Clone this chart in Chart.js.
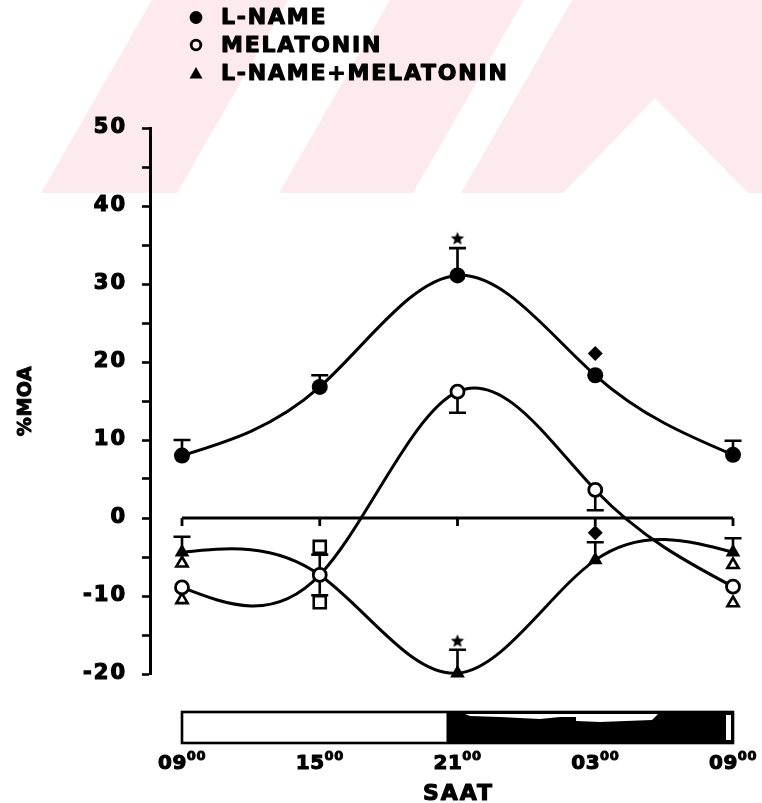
<!DOCTYPE html>
<html>
<head>
<meta charset="utf-8">
<script src="https://cdn.jsdelivr.net/npm/chart.js@4.4.1/dist/chart.umd.min.js"></script>
<style>
html, body { margin: 0; padding: 0; background: #fff; }
#wrap { width: 762px; height: 803px; }
</style>
</head>
<body>
<div id="wrap"><canvas id="chart" width="762" height="803"></canvas></div>
<script>
// time points: 09, 15, 21, 03, 09 (index on x axis)
const hours = [0, 1, 2, 3, 4];
const hourLabels = ['09', '15', '21', '03', '09'];
const darkStart = 1.92;   // lights off, in x units

const lname = [8, 16.8, 31.1, 18.3, 8.1];
const lnameErr = [2, 1.5, 3.5, 0, 1.8];
const melatonin = [-8.9, -7.3, 16.2, 3.6, -8.8];
const melatoninErr = [0, -2.6, -2.7, -2.6, 0];
const combo = [-4.4, -7.3, -19.9, -5.4, -4.4];
const comboErr = [2, 2.6, 3, 2.3, 1.8];

const openTriX = [0, 0, 4, 4];
const openTriY = [-5.8, -10.5, -6, -10.9];
const openSqX = [1, 1];
const openSqY = [-3.7, -10.8];
const starX = [2, 2];
const starY = [35.8, -15.8];
const diamondX = [3, 3];
const diamondY = [21.1, -1.9];

const FONT = 'DejaVu Sans';

function pts(xs, ys) {
    return xs.map((x, i) => ({ x: x, y: ys[i] }));
}

function makeStar(r) {
    const c = document.createElement('canvas');
    c.width = c.height = r * 2 + 2;
    const g = c.getContext('2d');
    g.beginPath();
    for (let k = 0; k < 10; k++) {
        const rad = k % 2 ? r * 0.45 : r;
        const a = -Math.PI / 2 + k * Math.PI / 5;
        g.lineTo(r + 1 + rad * Math.cos(a), r + 1 + rad * Math.sin(a));
    }
    g.closePath();
    g.fillStyle = '#000';
    g.fill();
    return c;
}

// natural cubic spline through the point elements -> bezier control points
function naturalSpline(p) {
    const n = p.length;
    if (n < 3) return;
    const h = [], d = [];
    for (let i = 0; i < n - 1; i++) {
        h[i] = p[i + 1].x - p[i].x;
        d[i] = (p[i + 1].y - p[i].y) / h[i];
    }
    const a = [], b = [], c = [], r = [];
    for (let i = 1; i < n - 1; i++) {
        a.push(h[i - 1]);
        b.push(2 * (h[i - 1] + h[i]));
        c.push(h[i]);
        r.push(6 * (d[i] - d[i - 1]));
    }
    const m = r.length;
    for (let i = 1; i < m; i++) {
        const w = a[i] / b[i - 1];
        b[i] -= w * c[i - 1];
        r[i] -= w * r[i - 1];
    }
    const M = new Array(n).fill(0);
    for (let i = m - 1; i >= 0; i--) {
        M[i + 1] = (r[i] - c[i] * M[i + 2]) / b[i];
    }
    for (let i = 0; i < n - 1; i++) {
        const s = d[i] - h[i] * (2 * M[i] + M[i + 1]) / 6;
        const e = d[i] + h[i] * (M[i] + 2 * M[i + 1]) / 6;
        p[i].cp2x = p[i].x + h[i] / 3;
        p[i].cp2y = p[i].y + s * h[i] / 3;
        p[i + 1].cp1x = p[i + 1].x - h[i] / 3;
        p[i + 1].cp1y = p[i + 1].y - e * h[i] / 3;
    }
}

const splinePlugin = {
    id: 'spline',
    beforeDatasetsDraw(chart) {
        chart.data.datasets.forEach((ds, i) => {
            if (!ds.spline) return;
            const meta = chart.getDatasetMeta(i);
            meta.dataset.updateControlPoints(chart.chartArea, 'x');
            naturalSpline(meta.data);
        });
    }
};

const watermark = [
    [[41, 193], [177, 193], [288, 0], [152, 0]],
    [[279, 193], [413, 193], [524, 0], [390, 0]],
    [[461, 193], [563, 193], [655, 98], [748, 193], [762, 193], [762, 0], [572, 0]]
];

function boldText(ctx, text, x, y, w) {
    ctx.lineWidth = w;
    ctx.lineJoin = 'round';
    ctx.strokeStyle = '#000';
    ctx.strokeText(text, x, y);
    ctx.fillText(text, x, y);
}

const decorPlugin = {
    id: 'decor',
    beforeDraw(chart) {
        const ctx = chart.ctx;
        ctx.save();
        ctx.fillStyle = 'rgb(253,234,238)';
        watermark.forEach(poly => {
            ctx.beginPath();
            poly.forEach(([x, y], k) => k ? ctx.lineTo(x, y) : ctx.moveTo(x, y));
            ctx.closePath();
            ctx.fill();
        });
        ctx.restore();
        // wide tracking for the axis tick labels
        ctx.letterSpacing = '2px';
    },
    beforeDatasetsDraw(chart) {
        const ctx = chart.ctx;
        const xs = chart.scales.x, ys = chart.scales.y;
        ctx.save();
        ctx.strokeStyle = '#000';
        ctx.lineCap = 'butt';
        // zero line with ticks
        ctx.lineWidth = 2.8;
        const y0 = ys.getPixelForValue(0);
        ctx.beginPath();
        ctx.moveTo(xs.getPixelForValue(hours[0]), y0);
        ctx.lineTo(xs.getPixelForValue(hours[hours.length - 1]), y0);
        hours.forEach(h => {
            const px = xs.getPixelForValue(h);
            ctx.moveTo(px, y0);
            ctx.lineTo(px, y0 + 8);
        });
        ctx.stroke();
        // error bars
        ctx.lineWidth = 2.6;
        [[lname, lnameErr], [melatonin, melatoninErr], [combo, comboErr]].forEach(([vals, errs]) => {
            vals.forEach((v, i) => {
                if (!errs[i]) return;
                const px = xs.getPixelForValue(hours[i]);
                const a = ys.getPixelForValue(v);
                const b = ys.getPixelForValue(v + errs[i]);
                ctx.beginPath();
                ctx.moveTo(px, a);
                ctx.lineTo(px, b);
                ctx.moveTo(px - 8.5, b);
                ctx.lineTo(px + 8.5, b);
                ctx.stroke();
            });
        });
        ctx.restore();
    },
    afterDraw(chart) {
        const ctx = chart.ctx;
        const xs = chart.scales.x;
        ctx.save();
        // light / dark bar
        const x0 = xs.getPixelForValue(hours[0]);
        const x1 = xs.getPixelForValue(hours[hours.length - 1]);
        const xd = xs.getPixelForValue(darkStart);
        ctx.fillStyle = '#000';
        ctx.fillRect(xd, 712, x1 - xd, 31);
        ctx.fillStyle = '#fff';
        ctx.beginPath();
        ctx.moveTo(465, 714); ctx.lineTo(658, 714); ctx.lineTo(652, 720);
        ctx.lineTo(600, 722); ctx.lineTo(576, 721); ctx.lineTo(576, 717);
        ctx.lineTo(560, 717); ctx.lineTo(540, 719); ctx.lineTo(500, 717);
        ctx.lineTo(470, 716); ctx.closePath();
        ctx.fill();
        ctx.fillRect(x1 - 7, 715, 5, 25);
        ctx.strokeStyle = '#000';
        ctx.lineWidth = 2.6;
        ctx.strokeRect(x0, 712, x1 - x0, 31);

        ctx.fillStyle = '#000';
        ctx.textBaseline = 'alphabetic';

        // y title
        ctx.save();
        ctx.translate(26, chart.chartArea.top + (chart.chartArea.bottom - chart.chartArea.top) / 2);
        ctx.rotate(-Math.PI / 2);
        ctx.textAlign = 'center';
        ctx.textBaseline = 'middle';
        ctx.letterSpacing = '0.5px';
        ctx.font = 'bold 19px "' + FONT + '"';
        boldText(ctx, '%MOA', 0, 0, 1);
        ctx.restore();

        // x labels with superscript
        ctx.textAlign = 'left';
        ctx.letterSpacing = '0.5px';
        hours.forEach((h, i) => {
            const cx = xs.getPixelForValue(h);
            ctx.font = 'bold 20px "' + FONT + '"';
            const w1 = ctx.measureText(hourLabels[i]).width;
            ctx.font = 'bold 13px "' + FONT + '"';
            const w2 = ctx.measureText('00').width;
            const sx = cx - (w1 + w2) / 2;
            ctx.font = 'bold 20px "' + FONT + '"';
            boldText(ctx, hourLabels[i], sx, 769, 1.1);
            ctx.font = 'bold 13px "' + FONT + '"';
            boldText(ctx, '00', sx + w1, 760, 0.9);
        });
        ctx.letterSpacing = '2px';
        ctx.font = 'bold 22px "' + FONT + '"';
        ctx.textAlign = 'center';
        boldText(ctx, 'SAAT', xs.getPixelForValue(2) + 1, 800, 1.1);

        // legend
        ctx.textAlign = 'left';
        ctx.textBaseline = 'middle';
        ctx.letterSpacing = '1.8px';
        ctx.font = 'bold 22px "' + FONT + '"';
        const rows = [17.5, 45, 73.5];
        chart.data.datasets.slice(0, 3).forEach((ds, i) => {
            const mx = 196, my = rows[i];
            ctx.beginPath();
            if (ds.pointStyle === 'triangle') {
                ctx.moveTo(mx, my - 6.5);
                ctx.lineTo(mx + 6.5, my + 5);
                ctx.lineTo(mx - 6.5, my + 5);
                ctx.closePath();
                ctx.fillStyle = '#000';
                ctx.fill();
            } else if (ds.pointBackgroundColor === '#fff') {
                ctx.arc(mx, my, 4.8, 0, Math.PI * 2);
                ctx.lineWidth = 2.8;
                ctx.stroke();
            } else {
                ctx.arc(mx, my, 6.4, 0, Math.PI * 2);
                ctx.fillStyle = '#000';
                ctx.fill();
            }
            ctx.fillStyle = '#000';
            boldText(ctx, ds.label, 221, my + 1, 1.1);
        });
        ctx.restore();
    }
};

const lineBase = {
    showLine: true,
    spline: true,
    tension: 0.4,
    borderColor: '#000',
    borderWidth: 3,
    pointBorderColor: '#000',
    clip: false
};

const markBase = {
    showLine: false,
    pointBorderColor: '#000',
    clip: false
};

new Chart(document.getElementById('chart'), {
    type: 'scatter',
    data: {
        datasets: [
            Object.assign({}, lineBase, {
                label: 'L-NAME',
                data: pts(hours, lname),
                pointStyle: 'circle',
                pointRadius: 8,
                pointBorderWidth: 0,
                pointBackgroundColor: '#000'
            }),
            Object.assign({}, lineBase, {
                label: 'MELATONIN',
                data: pts(hours, melatonin),
                pointStyle: 'circle',
                pointRadius: 6.5,
                pointBorderWidth: 2.8,
                pointBackgroundColor: '#fff'
            }),
            Object.assign({}, lineBase, {
                label: 'L-NAME+MELATONIN',
                data: pts(hours, combo),
                pointStyle: 'triangle',
                pointRadius: 8.5,
                pointBorderWidth: 0,
                pointBackgroundColor: '#000'
            }),
            Object.assign({}, markBase, {
                label: 'open triangles',
                data: pts(openTriX, openTriY),
                pointStyle: 'triangle',
                pointRadius: 6.5,
                pointBorderWidth: 2.6,
                pointBackgroundColor: '#fff'
            }),
            Object.assign({}, markBase, {
                label: 'open squares',
                data: pts(openSqX, openSqY),
                pointStyle: 'rect',
                pointRadius: 8.5,
                pointBorderWidth: 2.6,
                pointBackgroundColor: '#fff'
            }),
            Object.assign({}, markBase, {
                label: 'stars',
                data: pts(starX, starY),
                pointStyle: makeStar(7),
                pointRadius: 7
            }),
            Object.assign({}, markBase, {
                label: 'diamonds',
                data: pts(diamondX, diamondY),
                pointStyle: 'rectRot',
                pointRadius: 7.5,
                pointBorderWidth: 0,
                pointBackgroundColor: '#000'
            })
        ]
    },
    options: {
        responsive: false,
        animation: false,
        events: [],
        layout: { padding: { top: 128, bottom: 129, left: 0, right: 29 } },
        plugins: {
            legend: { display: false },
            tooltip: { enabled: false }
        },
        scales: {
            x: { type: 'linear', display: false, min: -0.2323, max: 4 },
            y: {
                min: -20,
                max: 50,
                afterFit(s) { s.width = 150; },
                border: { display: true, color: '#000', width: 3 },
                grid: {
                    drawOnChartArea: false,
                    drawTicks: true,
                    tickLength: 8,
                    tickWidth: 2.6,
                    tickColor: '#000'
                },
                ticks: {
                    stepSize: 5,
                    color: '#000',
                    padding: 15,
                    textStrokeColor: '#000',
                    textStrokeWidth: 1.2,
                    font: { family: FONT, weight: 'bold', size: 21 },
                    callback: v => v % 10 === 0 ? v : ''
                },
                title: { display: false }
            }
        }
    },
    plugins: [splinePlugin, decorPlugin]
});
</script>
</body>
</html>
